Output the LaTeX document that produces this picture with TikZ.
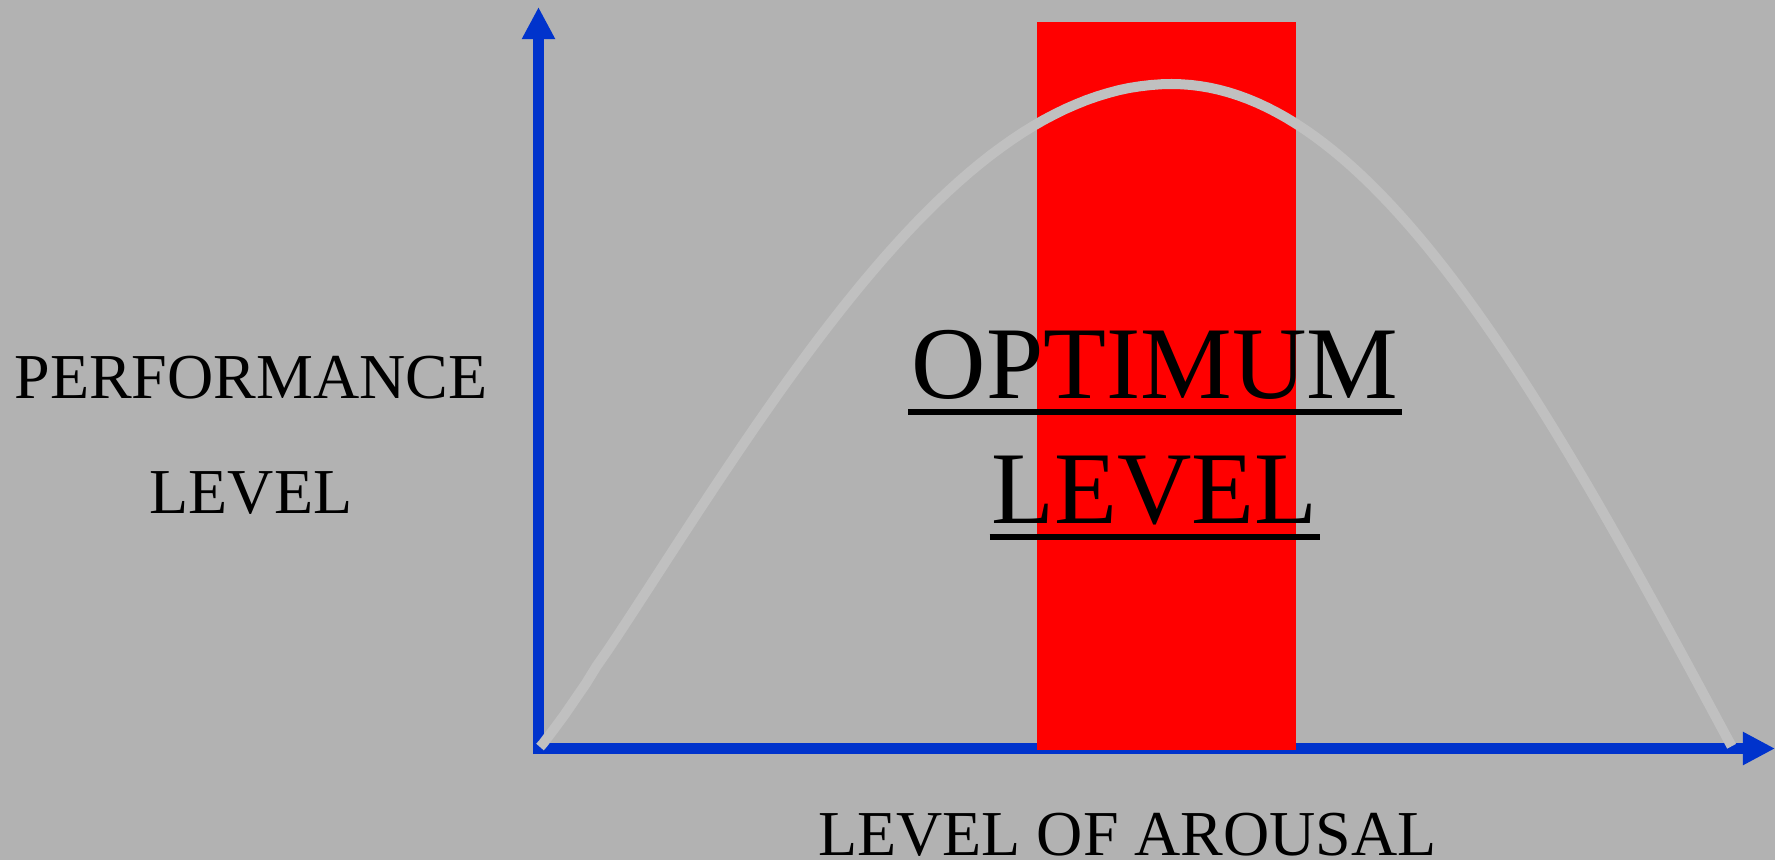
\documentclass[tikz,border=0pt]{standalone}
\usepackage{fontspec}
\setmainfont{Liberation Serif}
\usetikzlibrary{arrows.meta, calc}

\definecolor{bggray}{HTML}{B2B2B2}
\definecolor{axisblue}{HTML}{0033CC}
\definecolor{curvegray}{HTML}{C0C0C0}

\begin{document}
\begin{tikzpicture}[
    x=0.01cm, y=-0.01cm,
    axis/.style={draw=axisblue, line width=3.1pt, -{Triangle[length=0.32cm, width=0.31cm]}},
    zone/.style={fill=red, draw=none},
    curve/.style={draw=curvegray, line width=2.85pt},
    label/.style={inner sep=0pt, anchor=base, font=\fontsize{18.2pt}{22pt}\selectfont},
    biglabel/.style={inner sep=0pt, anchor=base, font=\fontsize{29.3pt}{34pt}\selectfont},
    uline/.style={line width=1.6pt},
]

% Background
\fill[bggray] (0,0) rectangle (1775,860);
\useasboundingbox (0,0) rectangle (1775,860);

% Axes
\coordinate (origin) at (538.5,748.5);
\coordinate (ytip) at (538.5,7);
\coordinate (xtip) at (1775,748.5);
\draw[axis] (538.5,754) -- (ytip);
\draw[axis] (533,748.5) -- (xtip);

% Optimum zone
\fill[zone] (1037,22) rectangle (1296,750);

% Performance curve
\draw[curve] (540,747)
    -- plot[domain=-0.995:0, samples=60, variable=\t] ({1172+632*\t},{747-663*pow(cos(90*\t),1.08)})
    -- plot[domain=0:1, samples=60, variable=\t] ({1172+560*\t},{747-663*cos(90*\t)});

% Labels
\node[label] (perf) at (251,398) {PERFORMANCE};
\node[label] (perflevel) at (251,513) {LEVEL};
\node[label] (arousal) at (1127.5,855) {LEVEL OF AROUSAL};

\node[biglabel] (optimum) at (1155,398) {OPTIMUM};
\node[biglabel] (optlevel) at (1154.5,523) {LEVEL};
\draw[uline] ($(optimum.base west)+(-3,14)$) -- ($(optimum.base east)+(3,14)$);
\draw[uline] ($(optlevel.base west)+(-1,14)$) -- ($(optlevel.base east)+(2,14)$);

\end{tikzpicture}
\end{document}
